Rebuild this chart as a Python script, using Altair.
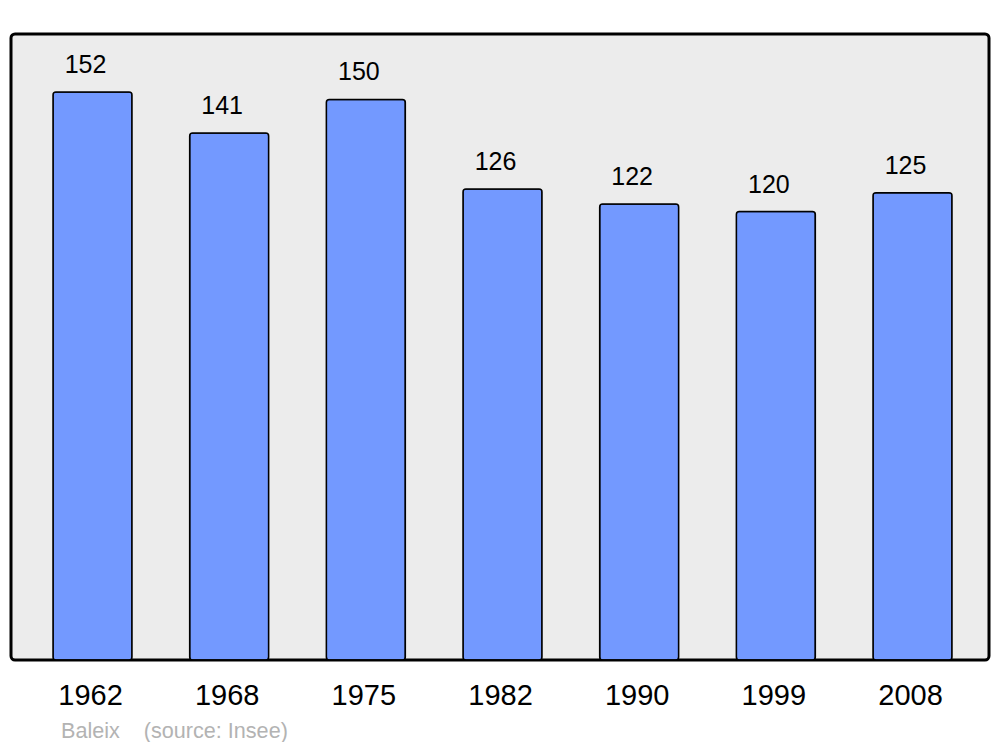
import altair as alt
import pandas as pd

years = ["1962", "1968", "1975", "1982", "1990", "1999", "2008"]
population = [152, 141, 150, 126, 122, 120, 125]

df = pd.DataFrame({"year": years, "pop": population})

x = alt.X("year:N", sort=years, title=None,
          scale=alt.Scale(paddingInner=0.422, paddingOuter=0.3, range=[1, 982]),
          axis=alt.Axis(labelAngle=0, domain=False, ticks=False, labelFontSize=29,
                        labelFont="Liberation Sans", labelColor="black",
                        labelPadding=21, labelOffset=-2, grid=False))
y = alt.Y("pop:Q", title=None, scale=alt.Scale(domain=[0, 167.5], nice=False, zero=True),
          axis=None)

bars = alt.Chart(df).mark_bar(fill="#7399ff", stroke="black", strokeWidth=1.5,
                              cornerRadius=3).encode(x=x, y=y)
labels = alt.Chart(df).mark_text(baseline="bottom", dy=-14, dx=-7, fontSize=25,
                                 font="Liberation Sans", color="black").encode(
    x=alt.X("year:N", sort=years), y="pop:Q", text="pop:Q")

gap = "\u00a0" * 4
chart = alt.layer(bars, labels).properties(
    width=978, height=626,
    background="white",
    autosize=alt.AutoSizeParams(type="none"),
    padding={"left": 3, "top": 26, "right": 3, "bottom": 82},
    title=alt.TitleParams(text="Baleix" + gap + "(source: Insee)", orient="bottom", anchor="start",
                          fontSize=21.6, font="Liberation Sans", fontWeight="normal",
                          color="#b3b3b3", dx=50, offset=11),
).configure_view(fill="#ececec", stroke="black", strokeWidth=3, cornerRadius=4)

chart.save("out.html", embed_options={"renderer": "svg", "actions": False})
